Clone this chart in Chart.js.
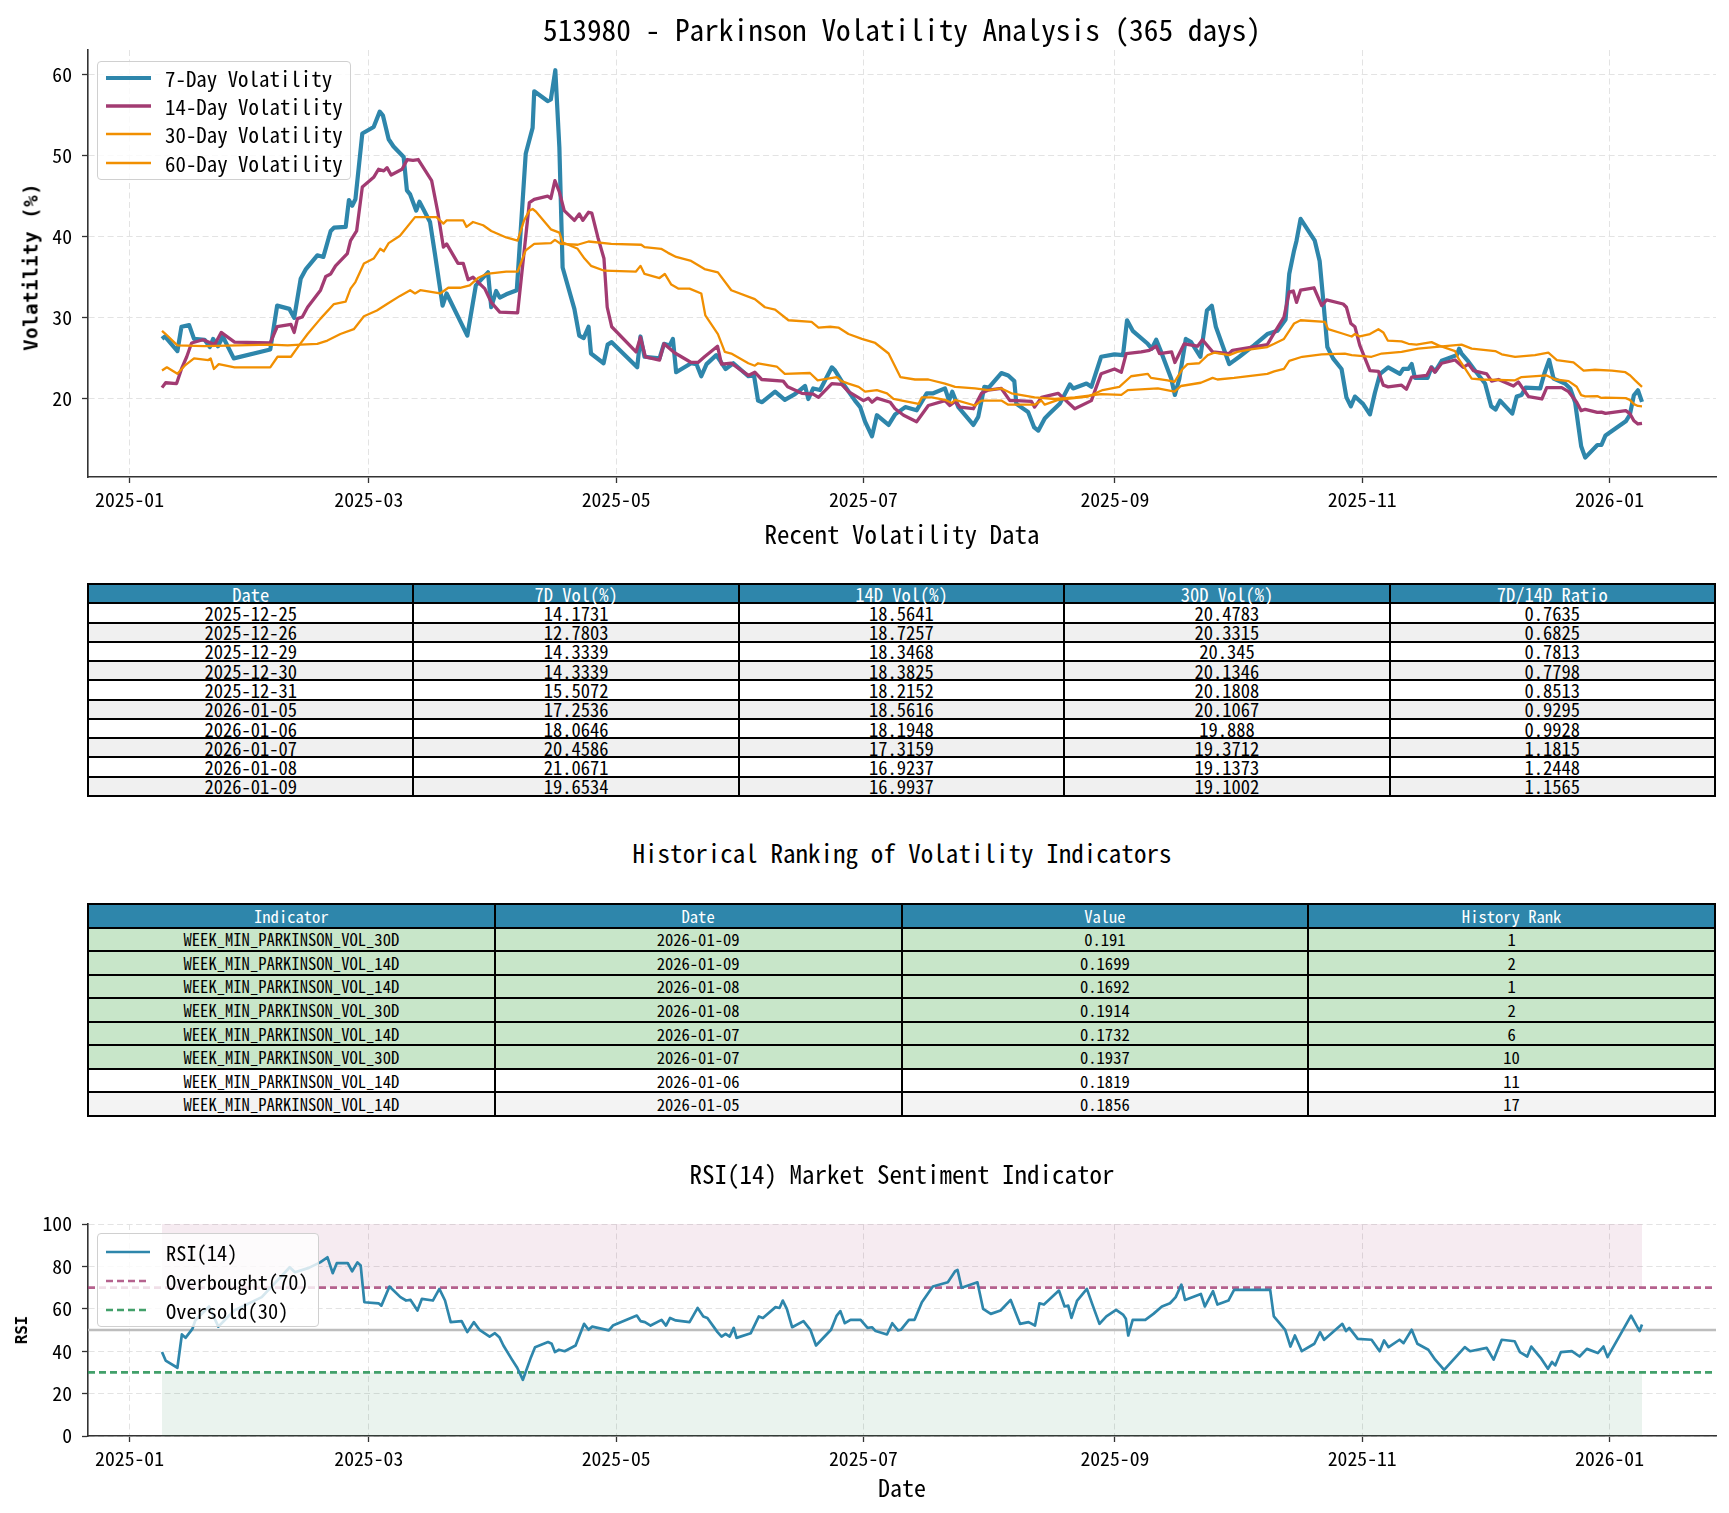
<!DOCTYPE html>
<html>
<head>
<meta charset="utf-8">
<script src="https://cdn.jsdelivr.net/npm/chart.js@4.4.1/dist/chart.umd.min.js"></script>
<style>
  body { margin: 0; background: #fff; }
  #page { position: relative; width: 1729px; height: 1513px; overflow: hidden; background: #fff; }
  canvas { position: absolute; left: 0; }
  .grid { position: absolute; box-sizing: border-box; display: grid; background: #000; padding: 2px; gap: 2px; overflow: hidden; }
  .grid div { display: flex; align-items: center; justify-content: center; white-space: nowrap; line-height: 1; overflow: visible; min-height: 0; }
  .legend { position: absolute; box-sizing: border-box; border: 1.3px solid #d0d0d0; border-radius: 4px; background: rgba(255,255,255,0.8); }
  .legend div, .legend svg { position: absolute; }
</style>
</head>
<body>
<div id="page">
  <canvas id="volChart" width="1729" height="520" style="top:0;width:1729px;height:520px"></canvas>
  <canvas id="rsiChart" width="1729" height="323" style="top:1190px;width:1729px;height:323px"></canvas>
</div>
<script>
// x values are days counted from 2025-01-01
const monthTicks = [0, 59, 120, 181, 243, 304, 365];
const monthLabels = ['2025-01', '2025-03', '2025-05', '2025-07', '2025-09', '2025-11', '2026-01'];
const volTicks = [20, 30, 40, 50, 60];

const vol7Day = [8,8.7,11.8,12.8,14.7,15.9,18.5,19.8,20.6,21.8,23,25.7,34.7,36.4,39.4,40.6,42.2,43.5,46.3,47.8,49.6,50.4,53.3,54.1,54.9,55.7,57.4,60.2,61.7,62.5,63.9,65.1,67.6,68.4,69.2,70.7,71.5,74.1,75.3,77.2,78.2,83.3,85.4,88.4,89.2,90.4,91.3,92.9,95.5,97.7,99.4,99.8,103.1,103.9,105,106,106.8,109.7,110.9,112,113.2,113.8,116.9,117.9,118.9,125.2,126,127,130.7,131.8,133.2,134,134.8,138.5,139.8,141,142.3,144.7,147,148.9,152.6,154,155,156,159.2,161.6,164.1,166.6,167.4,168.6,170.3,173.2,174,176.5,178.9,180.2,181.4,183.1,184.3,187.2,188.8,191.3,194.1,196.6,198.2,201.1,202.1,202.9,204.4,208.1,209.3,210.8,211.9,215,216.7,218.2,218.7,221.6,223.1,224.1,225.7,226.9,229.4,231.9,232.7,236,237.2,239.6,242.9,245,246,247.4,251.1,252.1,253.2,254.4,256.9,257.8,258.9,260.5,261.8,264.1,265.7,266.9,267.9,271.2,273.7,277.3,280.6,283.1,285.1,286,287.2,287.8,288.8,292.3,293.5,294.4,295.4,296.8,298.9,300.1,301.2,302.2,304.2,305.9,307.1,308.4,310.4,313.3,314.1,315.4,316.2,317,320.1,321.1,322,323.6,327.3,327.9,328.5,330.2,331.8,334.3,335.8,336.9,338,341,342.1,343.3,344.3,347.9,348.9,350.1,351.2,354,355.3,356.5,358,359,362,363,364,369,370,371,372,373];
const vol7 = [27.4,27.7,25.9,28.9,29.1,27.4,27.3,26.4,27.4,26.5,27.7,25.0,26.1,31.5,31.1,30.0,34.8,36.0,37.7,37.5,40.7,41.1,41.2,44.5,43.8,44.6,52.7,53.5,55.4,54.9,52.0,51.1,49.8,45.7,45.2,43.2,44.3,41.8,37.9,31.5,33.0,27.8,34.0,35.6,31.3,33.3,32.5,32.9,33.4,50.2,53.4,57.9,56.7,56.9,60.5,51.0,36.2,31.1,27.8,27.5,28.9,25.6,24.4,26.7,27.0,23.9,27.7,25.2,25.0,26.8,26.6,27.4,23.3,24.4,24.3,22.8,24.3,25.4,23.7,24.4,22.8,22.9,19.8,19.6,20.9,19.9,20.6,21.6,20.0,21.3,21.1,23.9,23.5,21.5,19.8,19.0,17.2,15.4,18.0,16.8,18.1,19.0,18.6,20.7,20.7,21.3,19.8,20.9,19.0,16.8,17.8,21.5,21.4,23.2,22.9,22.2,19.4,18.4,16.5,16.1,17.6,18.2,19.4,21.8,21.3,21.9,21.5,25.2,25.5,25.4,29.7,28.4,26.8,26.2,27.3,25.8,22.5,20.5,22.5,27.4,27.0,25.2,30.9,31.5,28.9,24.3,25.2,26.6,28.0,28.4,29.8,35.4,38.3,39.5,42.2,39.5,37.0,32.1,26.4,25.0,23.7,20.2,19.1,20.3,19.4,18.1,20.7,23.1,23.9,23.1,23.7,23.7,24.3,22.6,22.6,23.9,23.4,24.7,25.4,26.2,25.6,24.6,23.5,21.9,19.1,18.7,19.8,18.2,20.3,20.5,21.4,21.3,23.1,24.8,22.5,21.9,21.3,19.6,14.17,12.78,14.33,14.33,15.51,17.25,18.06,20.46,21.07,19.65];

const vol14Day = [8,8.9,11.6,12.8,14.1,15.3,18.1,21,22.6,25.9,34.7,36.4,39.8,40.6,41.4,42.6,43.9,47.1,48.4,49.6,50.8,53.7,54.5,56,57.4,60.2,61.4,62.7,63.5,64.5,67.2,68.5,69.9,71.2,74.5,76.1,77.4,78.2,81,82.3,83.5,84.7,87.6,89.2,91.3,95.7,98.6,99.8,103.1,103.9,104.9,106,107.2,109.7,110.9,111.8,113.2,114,115.5,117,117.8,118.9,124.9,126,127.2,130.7,131.8,134.4,138.5,140.2,141.8,145,146,148.4,152.6,154.2,155.9,161.2,162.3,165.8,168.6,169.9,173.2,175.6,177.3,181,182.2,183.1,184.3,187.6,188.8,190.9,194.1,197,201.1,202.3,203.6,204.8,208.1,210.1,211.8,215,217.1,218.7,222.4,223.2,224.9,229,233.1,237.2,239.6,242.9,244.6,245.8,249.5,251.5,253.2,254,257,257.8,260.1,263.4,264.6,267.1,271.2,272,280.6,281.9,284.7,286,287,287.8,288.8,292.1,294,295.2,299.3,300.1,301.2,302.2,303.4,305.9,308,309.2,310.4,313.7,314.9,316.2,319.9,321,321.9,323.6,326.9,328.9,330.2,331.4,334.7,335.9,337.6,341.3,342.5,345,348.3,349.5,353.2,354.9,356.9,358,359,362,363,364,369,370,371,372,373];
const vol14 = [21.4,22.0,21.9,23.7,25.2,26.9,27.3,26.7,28.2,27.0,26.9,28.9,29.2,28.2,29.9,30.1,31.3,33.4,35.1,35.4,36.4,37.9,39.5,40.7,46.1,47.3,48.3,48.1,48.5,47.6,48.3,49.5,49.4,49.5,46.9,42.8,38.7,39.1,36.7,36.7,34.7,35.0,33.6,31.9,30.7,30.6,44.2,44.6,45.0,44.7,46.9,45.5,43.2,42.0,42.8,42.0,43.0,42.9,39.9,37.3,31.3,28.9,25.8,27.6,25.2,24.8,26.8,25.7,24.5,24.5,25.2,26.5,24.3,24.4,22.9,23.3,22.4,22.2,21.5,20.7,20.6,20.2,21.9,21.8,20.9,19.8,20.1,19.6,20.1,19.6,18.8,18.0,17.2,19.2,19.8,19.2,19.7,19.0,18.8,20.7,21.1,21.3,19.8,19.8,19.7,19.0,20.2,20.7,18.8,19.8,23.1,23.7,23.3,25.6,25.8,26.0,26.5,25.6,25.8,24.5,26.8,26.5,27.3,25.8,25.6,26.0,26.7,27.8,30.1,33.2,33.3,31.9,33.4,33.7,31.5,32.2,31.7,31.3,29.3,28.9,26.6,23.5,23.4,21.7,21.5,21.7,21.2,22.7,22.9,23.9,23.3,24.4,24.8,23.9,24.3,23.5,23.1,22.2,22.4,21.6,22.1,20.3,20.0,21.4,21.4,20.9,19.6,18.56,18.73,18.35,18.38,18.22,18.56,18.19,17.32,16.92,16.99];

const vol30Day = [8,9.2,11.8,13.6,15.9,19.4,20,20.8,22,25.9,34.7,36.5,39.8,41.8,43.9,47.1,50.4,53.3,54.5,55.7,57.8,60.2,61.8,62.7,63.9,66.7,70.4,75.7,77.4,78.2,82.3,83.1,84.7,87.2,89.2,92.9,95.7,97.3,98.6,99.4,100.2,103.9,106,106.8,110.5,112.2,113.8,117.1,124.9,126,127,130.7,132,133.6,135.3,138.1,141,142,145.1,146.8,148.4,152.6,154.2,155,159.6,161.6,167.8,169.7,174.4,175.6,177.3,179.8,181.4,184.3,186.8,188.4,190.5,194.6,195.4,197.8,201.1,202.8,203.6,208.5,210.1,215,216.7,223.2,224.9,225.7,229,236.4,240,244.1,247,251.1,251.9,256,257.7,259.7,260.9,263.8,265.9,267.5,271.2,273.2,276.5,280.6,282.3,284.7,286,287.2,288.8,294.8,295.6,298.9,301.4,302.2,303.4,305.9,308,309.2,310.3,313.7,315.4,317.4,321.1,322.8,326.9,327.7,328.9,331,333.5,341.7,343.3,349.5,351.6,354.9,356.9,358,359,362,363,364,369,370,371,372,373];
const vol30 = [23.5,23.9,23.1,24.1,25.0,24.8,25.0,23.7,24.3,23.9,23.9,25.2,25.2,26.6,28.0,29.9,31.7,32.0,33.6,34.4,36.7,37.3,38.5,38.2,39.2,40.1,42.4,42.4,41.6,42.0,42.0,41.2,41.8,41.4,40.7,39.9,39.5,42.0,43.2,43.4,43.1,40.9,40.5,39.3,38.5,37.3,36.4,35.8,35.7,36.4,35.4,34.9,35.4,34.1,33.6,33.6,33.0,30.3,28.0,25.8,25.6,24.4,24.1,24.4,24.0,23.1,23.2,22.3,22.7,22.2,21.9,21.5,20.9,21.1,20.7,20.0,19.8,19.4,20.2,20.2,19.9,19.5,19.9,19.2,19.8,19.8,19.3,19.3,19.8,19.3,19.9,20.3,21.1,21.5,22.8,23.1,22.6,22.3,22.1,23.7,24.3,24.4,25.4,25.7,25.4,25.8,26.1,26.4,26.8,27.4,28.4,29.3,29.7,29.5,28.6,28.1,27.7,28.0,27.7,28.0,28.6,28.2,27.2,27.1,26.8,26.7,27.0,26.6,25.9,25.0,24.1,22.5,22.4,22.3,22.7,22.9,22.4,22.2,21.5,20.48,20.33,20.35,20.13,20.18,20.11,19.89,19.37,19.14,19.10];

const vol60Day = [8,8.9,11.8,18.5,26.7,34.7,39,42.2,46.3,48.8,52,55.3,57.8,61,63.5,66.7,69.2,70.4,71.7,76.6,78.6,81.5,83.9,85.9,88,92.9,95.7,97.7,99.8,103.9,104.9,106.4,110.5,113.2,118.8,126.2,127,131.1,132.8,134.8,138.5,141.8,145.1,148.4,154.2,156.7,159.2,162.5,168.2,169.9,172.8,174.8,177.3,180.6,183.9,187.2,190.1,193.7,197,201.1,203.6,208.5,211.8,215,217.5,223.2,228.2,233.1,239.6,244.6,246.2,253.6,257.7,259.3,264.2,267.1,268.3,272.4,280.6,282.3,284.7,286,289.2,294,299.7,301.4,306.3,308.8,313.7,317.8,324.4,328.5,331,336.8,338.4,341.7,346.6,349.9,352,356.1,358.6,361.4,365.6,368.9,370.1,371.3,373];
const vol60 = [28.4,28.0,26.6,26.5,26.6,26.7,26.6,26.7,26.8,27.2,28.0,28.6,30.2,30.9,31.7,32.7,33.4,33.0,33.4,33.0,33.7,33.7,34.0,34.9,35.4,35.7,35.7,38.3,39.1,39.2,39.6,39.1,39.0,39.4,39.1,39.0,38.7,38.5,38.0,37.5,37.0,36.0,35.6,33.4,32.3,31.3,31.0,29.7,29.5,28.8,28.9,28.8,28.0,27.4,26.9,25.6,22.7,22.4,22.4,21.9,21.5,21.3,21.1,21.3,20.7,20.2,20.0,20.2,20.6,20.5,21.1,21.3,20.9,21.6,22.0,22.6,22.4,22.6,23.1,23.4,23.7,24.7,25.2,25.5,25.6,25.4,25.2,25.6,25.8,26.2,26.5,26.7,26.2,25.9,25.5,25.2,25.4,25.7,24.8,24.5,23.5,23.6,23.5,23.3,22.9,22.3,21.5];

const rsiDay = [8,8.9,11.8,12.9,13.8,15.5,16.2,19.6,21.9,25.8,32.6,39.5,40.8,44.2,47,48.8,50.1,51.1,53.8,54.9,56.2,57,57.9,61.4,62.1,64.1,66.8,68.2,69.3,71,72.1,74.8,76.4,77.8,79.2,81.9,83.3,84.9,86.3,88.8,90.1,91.2,92.2,94.2,95.6,97,99,100,103.2,104.1,104.9,105.9,107.3,110,112.1,113.2,114.1,118.2,119.2,125.1,126,127.1,128.5,131.2,132.3,133.3,134.7,138.1,140.1,141.5,142.5,145,146,147,148,149,149.7,153.2,155.2,156.2,159.3,160.3,161.1,162.1,163.4,166.2,167.9,169.3,173,174.4,175.3,176.4,177.8,180.3,182,183.1,184,186.8,188.1,189.5,190.2,192.2,193.6,195.4,198.1,201.8,203.6,204.2,205.2,209.1,210.5,212.4,214.8,217.3,219.6,221.7,223.3,224.4,225.5,229.2,230.6,231.5,232.3,233.7,236.1,237.4,239.2,240.9,243.3,245,245.7,246.3,247.4,250.5,252.5,254.6,256.6,258,259.4,260.3,264.2,265.2,267.2,268.3,271,272.4,281.3,282.2,285,286.3,287.4,289.1,292.2,293.6,294.6,296.3,299.1,300,300.8,302.9,306.3,308.3,309.4,310.5,313.2,314.2,316.2,317.6,320.3,322,324.2,329.3,330.6,334.7,336.4,338.4,341.6,342.9,344.7,345.7,348,349.8,350.8,351.6,353,355.7,357.6,359.4,362.1,363.5,364.5,370.3,372.4,373];
const rsi = [39.6,35.6,32.2,47.9,46.3,50.5,54.5,61.1,51.6,59.2,65.5,79.6,77.2,79.3,81.9,84.3,76.8,81.5,81.6,77.7,81.9,80.4,63.1,62.6,61.5,70.5,65.5,63.9,64.2,59.2,64.7,63.9,69.4,63.9,53.7,54.2,49.0,53.7,50.1,46.9,48.5,46.6,42.7,36.4,32.2,26.5,37.2,41.9,44.3,43.5,39.6,40.7,40.0,42.7,52.9,50.1,51.6,49.8,52.1,56.8,54.2,53.7,52.1,54.8,52.1,55.7,54.5,53.7,60.4,56.4,55.7,49.0,46.9,48.2,46.9,51.0,46.3,48.5,56.4,55.7,60.8,60.4,63.9,60.0,51.3,54.2,50.1,42.7,50.1,56.8,58.9,53.2,54.8,54.8,51.0,51.3,49.5,47.9,53.2,49.8,50.1,54.8,54.8,63.1,70.5,72.5,77.7,78.3,69.9,72.5,60.0,57.6,59.2,64.2,52.9,53.7,52.1,62.6,62.0,68.6,61.1,61.5,55.7,63.9,69.4,62.3,52.9,56.4,59.5,57.3,55.3,47.4,54.8,54.8,57.6,61.1,62.6,65.5,71.4,64.2,67.0,61.1,68.3,62.0,63.9,68.9,68.9,56.4,50.1,42.2,47.4,40.0,43.5,49.0,45.4,48.2,52.9,49.5,51.0,45.8,45.4,40.0,45.1,41.9,45.4,43.8,50.1,43.5,40.7,36.0,31.2,41.9,40.0,41.6,36.0,45.4,44.7,39.6,37.5,42.2,36.9,31.7,34.9,33.3,39.6,40.0,37.5,41.1,39.1,42.2,37.2,56.8,49.5,52.6];
const rsiLevels = [70, 50, 30];

// tables
const recentDates = ['2025-12-25','2025-12-26','2025-12-29','2025-12-30','2025-12-31','2026-01-05','2026-01-06','2026-01-07','2026-01-08','2026-01-09'];
const recent7 = ['14.1731','12.7803','14.3339','14.3339','15.5072','17.2536','18.0646','20.4586','21.0671','19.6534'];
const recent14 = ['18.5641','18.7257','18.3468','18.3825','18.2152','18.5616','18.1948','17.3159','16.9237','16.9937'];
const recent30 = ['20.4783','20.3315','20.345','20.1346','20.1808','20.1067','19.888','19.3712','19.1373','19.1002'];
const recentRatio = ['0.7635','0.6825','0.7813','0.7798','0.8513','0.9295','0.9928','1.1815','1.2448','1.1565'];

const rankIndicators = ['WEEK_MIN_PARKINSON_VOL_30D','WEEK_MIN_PARKINSON_VOL_14D','WEEK_MIN_PARKINSON_VOL_14D','WEEK_MIN_PARKINSON_VOL_30D','WEEK_MIN_PARKINSON_VOL_14D','WEEK_MIN_PARKINSON_VOL_30D','WEEK_MIN_PARKINSON_VOL_14D','WEEK_MIN_PARKINSON_VOL_14D'];
const rankDates = ['2026-01-09','2026-01-09','2026-01-08','2026-01-08','2026-01-07','2026-01-07','2026-01-06','2026-01-05'];
const rankValues = ['0.191','0.1699','0.1692','0.1914','0.1732','0.1937','0.1819','0.1856'];
const rankPlaces = [1, 2, 1, 2, 6, 10, 11, 17];

// font: pick size from the wanted advance per character
const FONT = '"Noto Sans Mono CJK SC","DejaVu Sans Mono",monospace';
const BOLD_FONT = '"DejaVu Sans Mono",monospace';
const probe = document.createElement('canvas').getContext('2d');
probe.font = '100px ' + FONT;
const ADV = probe.measureText('0123456789').width / 1000;
function fs(perChar) { return Math.round(perChar / ADV * 10) / 10; }

const page = document.getElementById('page');
const BLUE = '#2E86AB', PLUM = '#A23B72', ORANGE = '#F18F01';
const X_MIN = -10.25, X_MAX = 391.25;

// text centred at (cx, cy); letter spacing stretched so it spans targetW pixels
function text(str, cx, cy, size, targetW, bold, rotate) {
  const d = document.createElement('div');
  d.textContent = str;
  d.style.cssText = 'position:absolute;left:0;top:0;font:' + (bold ? 'bold ' : '') + size + 'px ' + (bold ? BOLD_FONT : FONT) +
    ';line-height:1;white-space:nowrap;color:#000';
  page.appendChild(d);
  const w = d.getBoundingClientRect().width;
  const extra = (targetW - w) / str.length;
  d.style.letterSpacing = extra + 'px';
  d.style.textIndent = (extra / 2) + 'px';
  d.style.left = cx + 'px';
  d.style.top = cy + 'px';
  d.style.transform = 'translate(-50%,-50%)' + (rotate ? ' rotate(-90deg)' : '');
}

function pairs(xs, ys) { return xs.map((x, i) => ({x: x, y: ys[i]})); }

Chart.defaults.font.family = FONT;
Chart.defaults.color = '#000';

const tickFs = fs(9.83);
const tickPad = Math.max(0, 16.5 - 0.6 * tickFs);

function xScale() {
  return {
    type: 'linear', min: X_MIN, max: X_MAX,
    afterBuildTicks: axis => { axis.ticks = monthTicks.map(v => ({value: v})); },
    afterFit: s => { s.height = s.chart.height - s.chart.options.bottomAt; },
    ticks: { autoSkip: false, maxRotation: 0, padding: tickPad, font: {size: tickFs}, callback: (v, i) => monthLabels[i] },
    grid: { color: '#e3e3e3', lineWidth: 1, tickLength: 6, tickColor: '#333', tickWidth: 1.3 },
    border: { display: true, color: '#333', width: 1.6, dash: [6, 3.5] }
  };
}
function yScale(extra) {
  return Object.assign({
    type: 'linear',
    afterFit: s => { s.width = 88; },
    grid: { color: '#e3e3e3', lineWidth: 1, tickLength: 6, tickColor: '#333', tickWidth: 1.3 },
    border: { display: true, color: '#333', width: 1.6, dash: [6, 3.5] }
  }, extra);
}

function line(label, xs, ys, color, width, order) {
  return { label: label, data: pairs(xs, ys), borderColor: color, borderWidth: width, pointRadius: 0,
    tension: 0, fill: false, borderJoinStyle: 'round', order: order };
}

// volatility chart
new Chart(document.getElementById('volChart'), {
  type: 'line',
  data: { datasets: [
    line('7-Day Volatility', vol7Day, vol7, BLUE, 4.2, 3),
    line('14-Day Volatility', vol14Day, vol14, PLUM, 3.3, 2),
    line('30-Day Volatility', vol30Day, vol30, ORANGE, 2.3, 1),
    line('60-Day Volatility', vol60Day, vol60, ORANGE, 2.3, 0)
  ]},
  options: {
    bottomAt: 477,
    responsive: false, animation: false, devicePixelRatio: 1,
    layout: { padding: { top: 50, right: 13, left: 0, bottom: 0 } },
    plugins: { legend: { display: false }, tooltip: { enabled: false } },
    scales: {
      x: xScale(),
      y: yScale({
        min: 10.39, max: 62.99,
        afterBuildTicks: axis => { axis.ticks = volTicks.map(v => ({value: v})); },
        ticks: { padding: 10, font: {size: tickFs} }
      })
    }
  }
});

// RSI chart
const rsiFirst = rsiDay[0], rsiLast = rsiDay[rsiDay.length - 1];
new Chart(document.getElementById('rsiChart'), {
  type: 'line',
  data: { datasets: [
    line('RSI(14)', rsiDay, rsi, BLUE, 2.7, 0),
    { label: 'Overbought(70)', data: pairs([X_MIN, X_MAX], [rsiLevels[0], rsiLevels[0]]), borderColor: 'rgba(162,59,114,0.8)',
      borderWidth: 2.6, borderDash: [7, 4], pointRadius: 0, fill: false, order: 1 },
    { label: 'mid', data: pairs([X_MIN, X_MAX], [rsiLevels[1], rsiLevels[1]]), borderColor: '#bdbdbd',
      borderWidth: 2.7, pointRadius: 0, fill: false, order: 3 },
    { label: 'Oversold(30)', data: pairs([X_MIN, X_MAX], [rsiLevels[2], rsiLevels[2]]), borderColor: 'rgba(46,150,90,0.9)',
      borderWidth: 2.6, borderDash: [7, 4], pointRadius: 0, fill: false, order: 2 },
    { label: 'ob zone', data: pairs([rsiFirst, rsiLast], [100, 100]), borderWidth: 0, pointRadius: 0,
      backgroundColor: 'rgba(162,59,114,0.1)', fill: { value: rsiLevels[0] }, order: 5 },
    { label: 'os zone', data: pairs([rsiFirst, rsiLast], [rsiLevels[2], rsiLevels[2]]), borderWidth: 0, pointRadius: 0,
      backgroundColor: 'rgba(46,139,87,0.1)', fill: { value: 0 }, order: 5 }
  ]},
  options: {
    bottomAt: 246,
    responsive: false, animation: false, devicePixelRatio: 1,
    layout: { padding: { top: 34, right: 13, left: 0, bottom: 0 } },
    plugins: { legend: { display: false }, tooltip: { enabled: false } },
    scales: {
      x: xScale(),
      y: yScale({ min: 0, max: 100, ticks: { stepSize: 20, padding: 10, font: {size: tickFs} } })
    }
  }
});

// titles and axis labels
text('513980 - Parkinson Volatility Analysis (365 days)', 902, 29, fs(14.65), 718);
text('Volatility (%)', 31, 267, 19, 168, true, true);
text('Recent Volatility Data', 902, 533, fs(12.5), 275);
text('Historical Ranking of Volatility Indicators', 902, 852, fs(12.5), 539);
text('RSI(14) Market Sentiment Indicator', 902, 1173, fs(12.5), 425);
text('RSI', 22, 1330, 16, 28, true, true);
text('Date', 902, 1487, fs(12), 48);

// legends
function legend(left, top, w, h, items, size) {
  const box = document.createElement('div');
  box.className = 'legend';
  box.style.cssText = 'left:' + left + 'px;top:' + top + 'px;width:' + w + 'px;height:' + h + 'px';
  items.forEach(it => {
    const svg = document.createElementNS('http://www.w3.org/2000/svg', 'svg');
    svg.setAttribute('width', it.hw + 4);
    svg.setAttribute('height', 10);
    svg.style.left = (it.hx - 2) + 'px';
    svg.style.top = (it.y - 5) + 'px';
    svg.innerHTML = '<line x1="2" y1="5" x2="' + (it.hw + 2) + '" y2="5" stroke="' + it.color + '" stroke-width="' + it.width +
      '"' + (it.dash ? ' stroke-dasharray="' + it.dash + '"' : '') + '/>';
    box.appendChild(svg);
    const t = document.createElement('div');
    t.textContent = it.label;
    t.style.cssText = 'left:' + it.tx + 'px;top:' + it.y + 'px;transform:translateY(-50%);font:' + size + 'px ' + FONT + ';line-height:1;white-space:nowrap';
    box.appendChild(t);
  });
  page.appendChild(box);
}
legend(97, 61, 254, 119, [
  {label: '7-Day Volatility', color: BLUE, width: 4.2, y: 16, hx: 8, hw: 45, tx: 67},
  {label: '14-Day Volatility', color: PLUM, width: 3.3, y: 44, hx: 8, hw: 45, tx: 67},
  {label: '30-Day Volatility', color: ORANGE, width: 2.3, y: 72, hx: 8, hw: 45, tx: 67},
  {label: '60-Day Volatility', color: ORANGE, width: 2.3, y: 101, hx: 8, hw: 45, tx: 67}
], fs(10.45));
legend(97, 1233, 222, 94, [
  {label: 'RSI(14)', color: BLUE, width: 2.7, y: 18, hx: 8, hw: 44, tx: 68},
  {label: 'Overbought(70)', color: 'rgba(162,59,114,0.8)', width: 2.6, dash: '7 4', y: 47, hx: 8, hw: 44, tx: 68},
  {label: 'Oversold(30)', color: 'rgba(46,150,90,0.9)', width: 2.6, dash: '7 4', y: 76, hx: 8, hw: 44, tx: 68}
], fs(10.2));

// tables
function table(top, height, header, columns, size, rowColor) {
  const g = document.createElement('div');
  g.className = 'grid';
  const rows = columns[0].length + 1;
  g.style.cssText = 'left:87px;top:' + top + 'px;width:1629px;height:' + height + 'px;grid-template-columns:repeat(' +
    header.length + ',minmax(0,1fr));grid-template-rows:repeat(' + rows + ',minmax(0,1fr))';
  header.forEach(h => {
    const c = document.createElement('div');
    c.textContent = h;
    c.style.cssText = 'background:' + BLUE + ';color:#fff;font:' + size + 'px ' + FONT;
    g.appendChild(c);
  });
  for (let r = 0; r < rows - 1; r++) {
    columns.forEach(col => {
      const c = document.createElement('div');
      c.textContent = col[r];
      c.style.cssText = 'background:' + rowColor(r) + ';color:#000;font:' + size + 'px ' + FONT;
      g.appendChild(c);
    });
  }
  page.appendChild(g);
}
table(583, 214, ['Date', '7D Vol(%)', '14D Vol(%)', '30D Vol(%)', '7D/14D Ratio'],
  [recentDates, recent7, recent14, recent30, recentRatio], fs(9.26), r => r % 2 ? '#f0f0f0' : '#fff');
table(903, 214, ['Indicator', 'Date', 'Value', 'History Rank'],
  [rankIndicators, rankDates, rankValues, rankPlaces], fs(8.3),
  r => rankPlaces[r] <= 10 ? '#c8e6c9' : (r % 2 ? '#f3f3f3' : '#fff'));
</script>
</body>
</html>
